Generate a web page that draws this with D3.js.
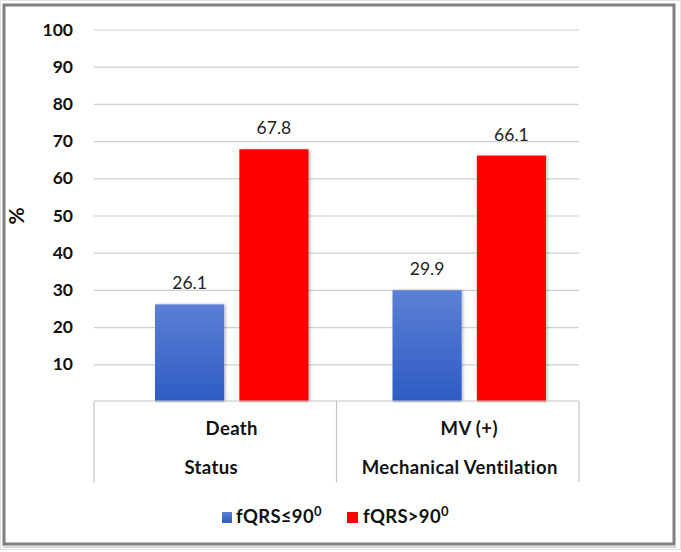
<!DOCTYPE html>
<html><head><meta charset="utf-8">
<script src="https://cdn.jsdelivr.net/npm/d3@7"></script>
<style>
html,body{margin:0;padding:0;background:#fff;}
svg{display:block;}
text{font-family:Lato,"Open Sans",sans-serif;}
</style></head>
<body>
<script>
const categories = ["Death", "MV (+)"];
const groupLabels = ["Status", "Mechanical Ventilation"];
const seriesNames = ["fQRS≤90", "fQRS>90"];
const seriesLow = [26.1, 29.9];
const seriesHigh = [67.8, 66.1];
const yTicks = [10, 20, 30, 40, 50, 60, 70, 80, 90, 100];
const yTitle = "%";

const W = 681, H = 552;
const svg = d3.select("body").append("svg").attr("width", W).attr("height", H);

// outer frame
svg.append("rect").attr("x",0).attr("y",0).attr("width",W).attr("height",H).attr("fill","#fff");
svg.append("rect").attr("x",0.5).attr("y",0.5).attr("width",W-1).attr("height",H-3).attr("fill","none").attr("stroke","#e2e2e2").attr("stroke-width",1);
svg.append("rect").attr("x",4).attr("y",5).attr("width",670).attr("height",539).attr("fill","none").attr("stroke","#7f7f7f").attr("stroke-width",3);
svg.append("line").attr("x1",3).attr("x2",676).attr("y1",547).attr("y2",547).attr("stroke","#c8c8c8").attr("stroke-width",1.5);

const defs = svg.append("defs");
const g1 = defs.append("linearGradient").attr("id","blueGrad").attr("x1",0).attr("x2",0).attr("y1",0).attr("y2",1);
g1.append("stop").attr("offset","0%").attr("stop-color","#5b80d6");
g1.append("stop").attr("offset","100%").attr("stop-color","#2e5bc3");
const f = defs.append("filter").attr("id","shadow").attr("x","-20%").attr("y","-20%").attr("width","140%").attr("height","140%");
f.append("feDropShadow").attr("dx",1.5).attr("dy",0).attr("stdDeviation",1.5).attr("flood-color","#000").attr("flood-opacity",0.25);

const plotL = 94, plotR = 579;
const y = d3.scaleLinear().domain([0,100]).range([401.5, 29.5]);

// y axis with gridlines
const yAxis = d3.axisLeft(y).tickValues(yTicks).tickSizeInner(-(plotR-plotL)).tickSizeOuter(0).tickPadding(21);
const ya = svg.append("g").attr("transform",`translate(${plotL},0)`).call(yAxis);
ya.select(".domain").remove();
ya.selectAll(".tick line").attr("stroke","#cfcfcf").attr("stroke-width",1.2);
ya.selectAll(".tick text").attr("font-size",17.5).attr("font-weight","bold").attr("fill","#111").attr("font-family","Lato, sans-serif");

svg.append("text").attr("transform","translate(24,216) rotate(-90)").attr("text-anchor","middle")
  .attr("font-size",21).attr("font-weight","bold").attr("fill","#111").text(yTitle);

// category box scale
const xBox = d3.scaleBand().domain(categories).range([plotL, plotR]);
// bar group scale
const xGroup = d3.scaleBand().domain(categories).range([113, 588]);
const xSub = d3.scaleBand().domain(seriesNames).range([42, xGroup.bandwidth()-42]).paddingInner(0.18);

const data = categories.map((c,i)=>({cat:c, vals:[{s:seriesNames[0], v:seriesLow[i]},{s:seriesNames[1], v:seriesHigh[i]}]}));
const fills = {[seriesNames[0]]:"url(#blueGrad)", [seriesNames[1]]:"#ff0000"};

const groups = svg.selectAll("g.grp").data(data).join("g").attr("class","grp")
  .attr("transform", d=>`translate(${xGroup(d.cat)},0)`);
groups.selectAll("rect").data(d=>d.vals).join("rect")
  .attr("x", d=>xSub(d.s)).attr("width", xSub.bandwidth())
  .attr("y", d=>y(d.v)).attr("height", d=>y(0)-y(d.v))
  .attr("fill", d=>fills[d.s]).attr("filter","url(#shadow)");
groups.selectAll("text.val").data(d=>d.vals).join("text").attr("class","val")
  .attr("x", d=>xSub(d.s)+xSub.bandwidth()/2).attr("y", d=>y(d.v)-15)
  .attr("text-anchor","middle").attr("font-size",17.5).attr("fill","#222")
  .text(d=>d.v.toFixed(1));

// category box lines
const boxTop = 401, boxBot = 482;
svg.append("line").attr("x1",plotL).attr("x2",plotR).attr("y1",boxTop).attr("y2",boxTop).attr("stroke","#c6c6c6").attr("stroke-width",1.2);
const edges = categories.map(c=>xBox(c)).concat([plotR]);
svg.selectAll("line.sep").data(edges).join("line").attr("class","sep")
  .attr("x1",d=>d).attr("x2",d=>d).attr("y1",boxTop).attr("y2",boxBot).attr("stroke","#c6c6c6").attr("stroke-width",1.2);

svg.selectAll("text.cat").data(categories).join("text").attr("class","cat")
  .attr("x", c=>xGroup(c)+xGroup.bandwidth()/2).attr("y",435)
  .attr("text-anchor","middle").attr("font-size",18.5).attr("letter-spacing",0.4).attr("font-weight","bold").attr("fill","#111").text(c=>c);
svg.selectAll("text.grpl").data(groupLabels).join("text").attr("class","grpl")
  .attr("x", (g,i)=>xBox(categories[i])+xBox.bandwidth()/2 - (i===0?4:-2)).attr("y",474)
  .attr("text-anchor","middle").attr("font-size",18.5).attr("letter-spacing",0.4).attr("font-weight","bold").attr("fill","#111").text(g=>g);

// legend
const legendX = [222, 347];
const leg = svg.selectAll("g.leg").data(seriesNames).join("g").attr("class","leg")
  .attr("transform",(d,i)=>`translate(${legendX[i]},512)`);
leg.append("rect").attr("x",0).attr("y",0).attr("width",(d,i)=>i===0?10:11).attr("height",11)
  .attr("fill",d=>fills[d]);
const lt = leg.append("text").attr("x",(d,i)=>i===0?14:16).attr("y",10.5).attr("font-size",18.5).attr("letter-spacing",0.3).attr("font-weight","bold").attr("fill","#111");
lt.append("tspan").text(d=>d);
lt.append("tspan").attr("dy",-7).attr("font-size",13).text("0");
</script>
</body></html>
